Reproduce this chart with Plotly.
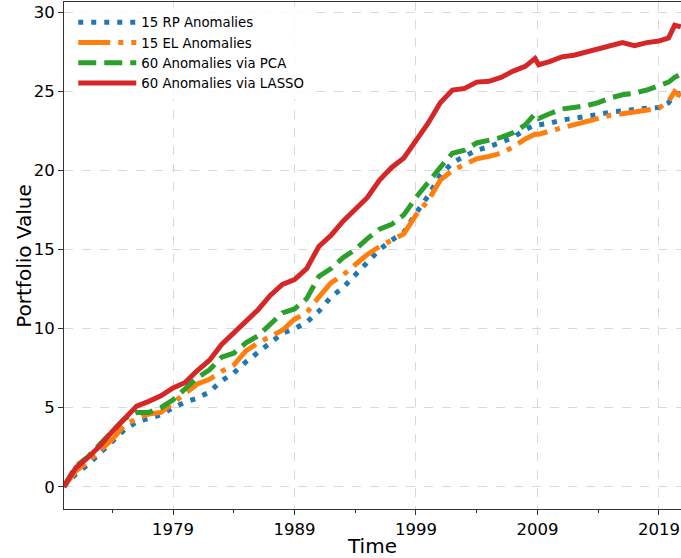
import plotly.graph_objects as go

# Time axis (decimal years)
years = [1970, 1971, 1972, 1973, 1974, 1975, 1976, 1977, 1978, 1979,
         1980, 1981, 1982, 1983, 1984, 1985, 1986, 1987, 1988, 1989,
         1990, 1991, 1992, 1993, 1994, 1995, 1996, 1997, 1998, 1999,
         2000, 2001, 2002, 2003, 2004, 2005, 2006, 2007, 2008, 2008.8,
         2009.1, 2010, 2011, 2012, 2013, 2014, 2015, 2016, 2017, 2018,
         2019, 2019.8, 2020.3, 2020.8]

rp_15 = [0.0, 0.8, 1.4, 2.1, 2.9, 3.6, 4.1, 4.35, 4.55, 5.0,
         5.35, 5.6, 6.0, 6.7, 7.2, 7.9, 8.5, 9.1, 9.7, 10.0,
         10.4, 11.1, 12.0, 12.6, 13.4, 14.2, 15.0, 15.6, 16.1, 17.3,
         18.4, 19.7, 20.5, 20.9, 21.3, 21.5, 21.8, 22.1, 22.6, 22.9,
         22.9, 23.0, 23.2, 23.3, 23.4, 23.55, 23.7, 23.8, 23.85, 23.95,
         24.0, 24.3, 24.8, 24.9]

el_15 = [0.0, 1.0, 1.6, 2.3, 3.0, 3.9, 4.3, 4.6, 4.7, 5.3,
         5.9, 6.5, 6.8, 7.3, 7.7, 8.6, 9.1, 9.5, 9.9, 10.6,
         11.0, 12.0, 12.9, 13.4, 14.1, 14.7, 15.2, 15.6, 16.0, 17.2,
         18.1, 19.4, 20.0, 20.4, 20.75, 20.9, 21.1, 21.5, 22.0, 22.3,
         22.3, 22.5, 22.7, 22.9, 23.1, 23.3, 23.5, 23.6, 23.7, 23.85,
         23.95, 24.4, 25.0, 24.7]

pca_60 = [0.0, 1.3, 1.9, 2.7, 3.4, 4.3, 4.7, 4.7, 5.0, 5.5,
          6.2, 6.9, 7.4, 8.2, 8.45, 9.1, 9.55, 10.3, 11.0, 11.25,
          11.9, 13.3, 13.8, 14.5, 15.0, 15.7, 16.3, 16.6, 17.2, 18.3,
          19.3, 20.2, 21.1, 21.3, 21.75, 21.9, 22.1, 22.4, 22.9, 23.6,
          23.3, 23.6, 23.9, 24.0, 24.1, 24.3, 24.6, 24.8, 24.9, 25.1,
          25.35, 25.6, 25.9, 26.1]

lasso_60 = [0.0, 1.2, 1.85, 2.6, 3.5, 4.35, 5.1, 5.4, 5.75, 6.25,
            6.6, 7.35, 8.0, 9.0, 9.7, 10.5, 11.2, 12.1, 12.8, 13.1,
            13.8, 15.2, 15.9, 16.8, 17.5, 18.3, 19.4, 20.2, 20.8, 21.9,
            23.0, 24.3, 25.1, 25.2, 25.6, 25.65, 25.9, 26.3, 26.6, 27.1,
            26.7, 26.9, 27.2, 27.3, 27.5, 27.7, 27.95, 28.1, 27.9, 28.1,
            28.2, 28.4, 29.2, 29.1]

series_names = ["15 RP Anomalies", "15 EL Anomalies",
                "60 Anomalies via PCA", "60 Anomalies via LASSO"]

major_ticks = [1979, 1989, 1999, 2009, 2019]
major_labels = ["1979", "1989", "1999", "2009", "2019"]
minor_ticks = [1974, 1984, 1994, 2004, 2014]
y_ticks = [0, 5, 10, 15, 20, 25, 30]

styles = [
    dict(color="#1f77b4", width=5, dash="5px,8px"),
    dict(color="#ff7f0e", width=5, dash="32px,8px,5px,8px"),
    dict(color="#2ca02c", width=5, dash="18px,8px"),
    dict(color="#d62728", width=5, dash="solid"),
]

fig = go.Figure()
for name, vals, st in zip(series_names, [rp_15, el_15, pca_60, lasso_60], styles):
    fig.add_trace(go.Scatter(x=years, y=vals, mode="lines", name=name, line=st))

font_family = "DejaVu Sans"
fig.update_layout(
    width=681, height=558,
    margin=dict(l=64, r=0, t=2, b=49, autoexpand=False),
    paper_bgcolor="white", plot_bgcolor="white",
    font=dict(family=font_family, color="black", size=16),
    showlegend=True,
    legend=dict(x=0.015, y=0.99, xanchor="left", yanchor="top",
                bgcolor="rgba(255,255,255,0.8)", borderwidth=0,
                itemwidth=58, tracegroupgap=0,
                font=dict(size=13.3, family=font_family)),
    annotations=[dict(text="Portfolio Value", textangle=-90,
                      xref="paper", yref="paper", x=-0.066, y=0.5,
                      xanchor="center", yanchor="middle", showarrow=False,
                      font=dict(size=20, family=font_family, color="black"))],
)
fig.update_xaxes(
    range=[1970.02, 2020.82], automargin=False,
    tickvals=major_ticks, ticktext=major_labels,
    ticks="outside", ticklen=5, tickcolor="#333",
    showline=True, linecolor="#333", linewidth=1, mirror=True,
    showgrid=True, gridcolor="#d9d9d9", griddash="dash", gridwidth=1,
    zeroline=False,
    tickfont=dict(size=16.5),
    minor=dict(tickvals=minor_ticks, ticks="outside", ticklen=3, tickcolor="#333", showgrid=False),
    title=dict(text="Time", font=dict(size=20), standoff=4),
)
fig.update_yaxes(
    range=[-1.41, 30.67], automargin=False,
    tickvals=y_ticks,
    ticks="outside", ticklen=5, tickcolor="#333",
    showline=True, linecolor="#333", linewidth=1, mirror=False,
    showgrid=True, gridcolor="#d9d9d9", griddash="dash", gridwidth=1,
    zeroline=False,
    tickfont=dict(size=16.5),
)

fig.write_html("out.html", config={"displayModeBar": False},
               post_script="document.body.style.margin='0';")
